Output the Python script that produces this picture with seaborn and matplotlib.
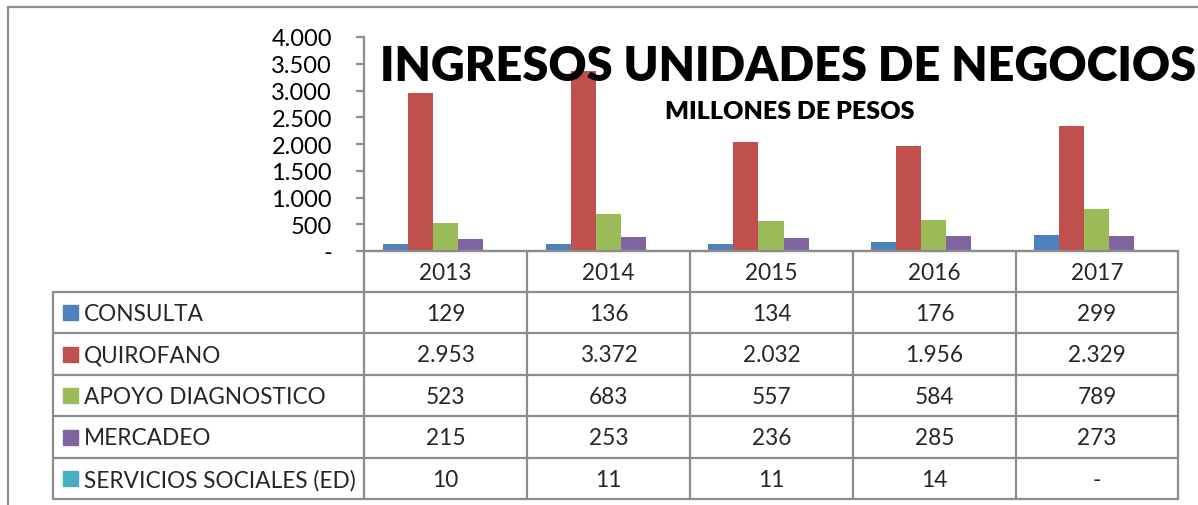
import matplotlib
matplotlib.use("Agg")
import matplotlib.pyplot as plt
import seaborn as sns
import pandas as pd
from matplotlib.patches import Rectangle

# ---- data ----
years = ["2013", "2014", "2015", "2016", "2017"]
series_names = ["CONSULTA", "QUIROFANO", "APOYO DIAGNOSTICO", "MERCADEO", "SERVICIOS SOCIALES (ED)"]
consulta = [129, 136, 134, 176, 299]
quirofano = [2953, 3372, 2032, 1956, 2329]
apoyo = [523, 683, 557, 584, 789]
mercadeo = [215, 253, 236, 285, 273]
servicios = [10, 11, 11, 14, 0]
colors = ["#4F81BD", "#C0504D", "#9BBB59", "#8064A2", "#4BACC6"]
yticks = [0, 500, 1000, 1500, 2000, 2500, 3000, 3500, 4000]
title = "INGRESOS UNIDADES DE NEGOCIOS"
subtitle = "MILLONES DE PESOS"

all_values = [consulta, quirofano, apoyo, mercadeo, servicios]
rows = []
for name, vals in zip(series_names, all_values):
    for y, v in zip(years, vals):
        rows.append({"year": y, "series": name, "value": v})
df = pd.DataFrame(rows)


def fmt(v):
    if v == 0:
        return "-"
    return f"{v:,.0f}".replace(",", ".")


sns.set_theme(style="white")
plt.rcParams["font.family"] = ["Lato", "DejaVu Sans"]

W, H = 1198, 506
fig = plt.figure(figsize=(W / 100, H / 100), dpi=100)
fig.patch.set_facecolor("white")


def fx(px):
    return px / W


def fy(py):
    return 1 - py / H


fs = 16.3
ax_left, ax_right, ax_top, ax_bottom = 364, 1178, 38, 252
ax = fig.add_axes([fx(ax_left), fy(ax_bottom), fx(ax_right) - fx(ax_left), fy(ax_top) - fy(ax_bottom)])
sns.barplot(data=df, x="year", y="value", hue="series", order=years, hue_order=series_names,
            palette=colors, saturation=1, width=0.77, ax=ax, legend=False, linewidth=0)
ax.set_ylim(0, 4000)
ax.set_xlim(-0.5, len(years) - 0.5)
ax.set_yticks(yticks)
ax.set_yticklabels([fmt(v) for v in yticks], fontsize=fs + 0.7)
ax.set_xticks([])
ax.set_xlabel("")
ax.set_ylabel("")
for s in ["top", "right"]:
    ax.spines[s].set_visible(False)
gray = "#8c8c8c"
for s in ["left", "bottom"]:
    ax.spines[s].set_color(gray)
    ax.spines[s].set_linewidth(1.6)
ax.tick_params(axis="y", length=6, width=1.6, color=gray, pad=17, labelcolor="black", left=True)
ax.patch.set_alpha(0)

# overlay for table / frame
ov = fig.add_axes([0, 0, 1, 1], zorder=5)
ov.set_xlim(0, W)
ov.set_ylim(H, 0)
ov.axis("off")
ov.patch.set_alpha(0)

ov.plot([8, 8], [8, H], color=gray, lw=1.6)
ov.plot([8, W], [8, 8], color=gray, lw=1.6)

col_edges = [364, 527, 690, 853, 1016, 1178]
row_edges = [252, 293, 334, 376, 417, 459, 500]
tbl_left = 53
lw = 1.6
ov.plot([364, 1178], [row_edges[0]] * 2, color=gray, lw=lw)
for r in row_edges[1:]:
    ov.plot([tbl_left, 1178], [r, r], color=gray, lw=lw)
for c in col_edges:
    ov.plot([c, c], [row_edges[0], row_edges[-1]], color=gray, lw=lw)
ov.plot([tbl_left, tbl_left], [row_edges[1], row_edges[-1]], color=gray, lw=lw)

for i, y in enumerate(years):
    cx = (col_edges[i] + col_edges[i + 1]) / 2
    ov.text(cx, (row_edges[0] + row_edges[1]) / 2 + 1, y, ha="center", va="center", fontsize=fs)
for j, (name, vals) in enumerate(zip(series_names, all_values)):
    cy = (row_edges[j + 1] + row_edges[j + 2]) / 2
    ov.add_patch(Rectangle((63, cy - 7.5), 15, 15, color=colors[j]))
    ov.text(84, cy + 1, name, ha="left", va="center", fontsize=fs)
    for i, v in enumerate(vals):
        cx = (col_edges[i] + col_edges[i + 1]) / 2
        ov.text(cx, cy + 1, fmt(v), ha="center", va="center", fontsize=fs)

# titles, fitted to the reference's widths
renderer = fig.canvas.get_renderer()


def fitted_text(x, y, s, target_w, size, **kw):
    t = ov.text(x, y, s, ha="center", va="center", fontsize=size, **kw)
    w = t.get_window_extent(renderer).width
    t.set_fontsize(size * target_w / w)
    return t


fitted_text(788, 67, title, 815, 36, fontweight="heavy", family=["Lato", "DejaVu Sans"], color="black")
fitted_text(790, 112, subtitle, 250, 16, fontweight="heavy", family=["Lato", "DejaVu Sans"], color="black")

fig.savefig("out.png", dpi=100)
